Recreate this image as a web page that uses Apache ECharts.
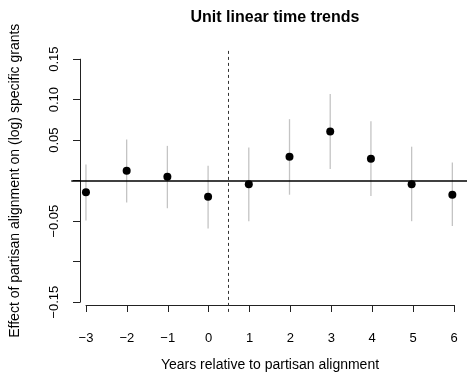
<!DOCTYPE html>
<html>
<head>
<meta charset="utf-8">
<script src="https://cdn.jsdelivr.net/npm/echarts@6/dist/echarts.min.js"></script>
<style>
html,body{margin:0;padding:0;background:#fff;}
#c{width:467px;height:377px;}
</style>
</head>
<body>
<div id="c"></div>
<script>
const xYears = [-3, -2, -1, 0, 1, 2, 3, 4, 5, 6];
const estimates = [-0.0144, 0.0123, 0.005, -0.0198, -0.0045, 0.0296, 0.0609, 0.0272, -0.0045, -0.0173];
const lower = [-0.049, -0.027, -0.034, -0.059, -0.050, -0.0173, 0.0144, -0.019, -0.050, -0.056];
const upper = [0.020, 0.051, 0.043, 0.0185, 0.041, 0.076, 0.107, 0.0733, 0.042, 0.0226];
const xTickLabels = ['\u22123', '\u22122', '\u22121', '0', '1', '2', '3', '4', '5', '6'];
const yTicks = [-0.15, -0.10, -0.05, 0, 0.05, 0.10, 0.15];
const yTickLabels = ['\u22120.15', '', '\u22120.05', '', '0.05', '0.10', '0.15'];
const cutoff = 0.5;
const titleText = 'Unit linear time trends';
const xName = 'Years relative to partisan alignment';
const yName = 'Effect of partisan alignment on (log) specific grants';

const FONT = '"Liberation Sans", Arial, Helvetica, sans-serif';
const chart = echarts.init(document.getElementById('c'), null, {renderer: 'canvas'});

const axisCol = '#222';
const dataX = {min: -3.36, max: 6.36};
const dataY = {min: -0.162, max: 0.162};

const option = {
  animation: false,
  backgroundColor: '#fff',
  title: {
    text: titleText,
    left: 270, top: 5, textAlign: 'center',
    textStyle: {fontFamily: FONT, fontWeight: 'bold', fontSize: 16, color: '#000'}
  },
  grid: [
    {left: 71.3, top: 49.5, width: 397.4, height: 262.4},
    {left: 86, top: 49.5, width: 368, height: 262.4},
    {left: 71.3, top: 59.2, width: 397.4, height: 243}
  ],
  xAxis: [
    {gridIndex: 0, type: 'value', min: dataX.min, max: dataX.max, show: false},
    {gridIndex: 1, type: 'value', min: xYears[0], max: xYears[xYears.length - 1], interval: 1,
      axisLine: {show: true, onZero: false, lineStyle: {color: axisCol, width: 1}},
      axisTick: {show: true, length: 7, lineStyle: {color: axisCol, width: 1}},
      axisLabel: {margin: 27, fontFamily: FONT, fontSize: 13, color: '#000',
        formatter: v => { const i = xYears.indexOf(Math.round(v)); return i >= 0 ? xTickLabels[i] : ''; }},
      splitLine: {show: false},
      name: xName, nameLocation: 'middle', nameGap: 53,
      nameTextStyle: {fontFamily: FONT, fontSize: 14, color: '#000'}
    },
    {gridIndex: 2, type: 'value', min: dataX.min, max: dataX.max, show: false}
  ],
  yAxis: [
    {gridIndex: 0, type: 'value', min: dataY.min, max: dataY.max, show: false},
    {gridIndex: 1, type: 'value', min: dataY.min, max: dataY.max, show: false},
    {gridIndex: 2, type: 'value', min: yTicks[0], max: yTicks[yTicks.length - 1], interval: 0.05,
      axisLine: {show: true, onZero: false, lineStyle: {color: axisCol, width: 1}},
      axisTick: {show: true, length: 7, lineStyle: {color: axisCol, width: 1}},
      axisLabel: {margin: 19, rotate: 90, fontFamily: FONT, fontSize: 13, color: '#000',
        formatter: v => { let k = -1; yTicks.forEach((t, i) => { if (Math.abs(t - v) < 1e-6) k = i; }); return k >= 0 ? yTickLabels[k] : ''; }},
      splitLine: {show: false},
      name: yName, nameLocation: 'middle', nameGap: 58, nameRotate: 90,
      nameTextStyle: {fontFamily: FONT, fontSize: 14, color: '#000'}
    }
  ],
  series: [
    {
      type: 'custom', xAxisIndex: 0, yAxisIndex: 0, silent: true,
      data: xYears.map((x, i) => [x, lower[i], upper[i]]),
      renderItem: function (params, api) {
        const x = api.value(0);
        const a = api.coord([x, api.value(1)]);
        const b = api.coord([x, api.value(2)]);
        return {type: 'line', shape: {x1: a[0], y1: a[1], x2: b[0], y2: b[1]},
          style: {stroke: '#c4c4c4', lineWidth: 1.3}};
      },
      z: 1
    },
    {
      type: 'scatter', xAxisIndex: 0, yAxisIndex: 0, silent: true,
      data: xYears.map((x, i) => [x, estimates[i]]),
      symbol: 'circle', symbolSize: 8,
      itemStyle: {color: '#000', opacity: 1},
      z: 5,
      markLine: {
        silent: true, symbol: 'none', label: {show: false},
        data: [
          {yAxis: 0, lineStyle: {color: '#000', width: 1.6, type: 'solid'}},
          {xAxis: cutoff, lineStyle: {color: '#333', width: 1, type: [3, 3]}}
        ]
      }
    }
  ]
};
chart.setOption(option);
</script>
</body>
</html>
